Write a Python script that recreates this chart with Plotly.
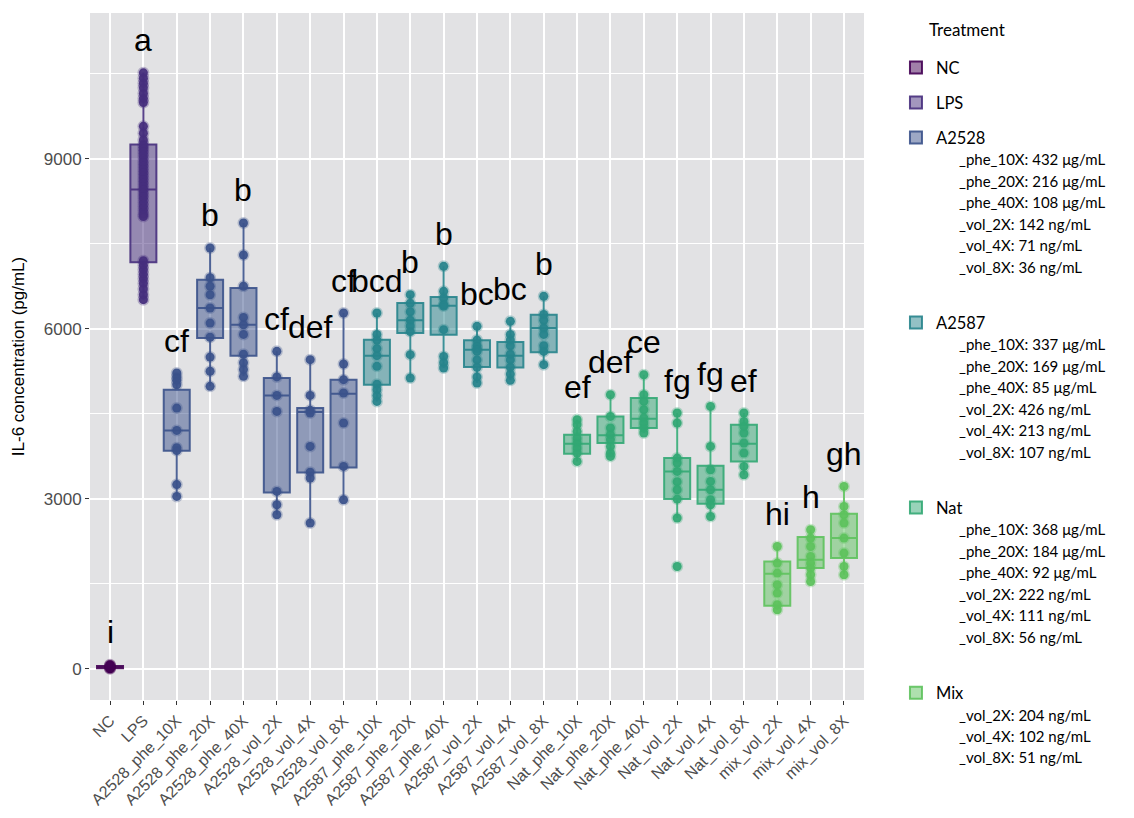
import plotly.graph_objects as go

categories = ["NC", "LPS",
              "A2528_phe_10X", "A2528_phe_20X", "A2528_phe_40X", "A2528_vol_2X", "A2528_vol_4X", "A2528_vol_8X",
              "A2587_phe_10X", "A2587_phe_20X", "A2587_phe_40X", "A2587_vol_2X", "A2587_vol_4X", "A2587_vol_8X",
              "Nat_phe_10X", "Nat_phe_20X", "Nat_phe_40X", "Nat_vol_2X", "Nat_vol_4X", "Nat_vol_8X",
              "mix_vol_2X", "mix_vol_4X", "mix_vol_8X"]
groups = ["NC", "LPS"] + ["A2528"] * 6 + ["A2587"] * 6 + ["Nat"] * 6 + ["Mix"] * 3

q1 = [10, 7171, 3848, 5837, 5525, 3112, 3465, 3553, 5013, 5925, 5895, 5325, 5318, 5583,
      3795, 3984, 4248, 2995, 2912, 3659, 1112, 1777, 1953]
median = [30, 8454, 4206, 6366, 6072, 4824, 4530, 4854, 5525, 6148, 6407, 5630, 5525, 6013,
          3971, 4120, 4412, 3483, 3159, 3971, 1677, 1924, 2306]
q3 = [50, 9249, 4924, 6866, 6719, 5130, 4601, 5101, 5807, 6455, 6560, 5795, 5766, 6248,
      4130, 4453, 4778, 3718, 3583, 4307, 1894, 2324, 2736]
lower = [0, 6513, 3042, 4983, 5160, 2718, 2572, 2983, 4718, 5131, 5307, 5042, 5089, 5366,
         3659, 3748, 4160, 2660, 2688, 3424, 1041, 1541, 1659]
upper = [70, 10514, 5219, 7425, 7866, 5601, 5454, 6278, 6278, 6601, 7101, 6042, 6130, 6571,
         4395, 4836, 5189, 4513, 4630, 4513, 2159, 2453, 3218]

points = [
    [0, 10, 20, 30, 40, 50, 60, 70],
    [10514, 10420, 10330, 10250, 10150, 10060, 9990, 9570, 9450, 9330, 9250, 9200, 9150, 9090,
     9030, 8960, 8900, 8840, 8780, 8720, 8660, 8600, 8540, 8480, 8420, 8360, 8300, 8230, 8160,
     8090, 8020, 7980, 7200, 7120, 7040, 6960, 6880, 6800, 6700, 6600, 6513],
    [5219, 5150, 5090, 5010, 4600, 4206, 3900, 3850, 3250, 3042],
    [7425, 6900, 6750, 6600, 6366, 6100, 5850, 5500, 5250, 4983],
    [7866, 7300, 6750, 6200, 6070, 5900, 5550, 5400, 5280, 5160],
    [5601, 5150, 4824, 4541, 3130, 2895, 2718],
    [5454, 4824, 4560, 4513, 3924, 3470, 3366, 2572],
    [6278, 5378, 5101, 4866, 4336, 3571, 2983],
    [6278, 5900, 5800, 5650, 5525, 5336, 5020, 4924, 4820, 4718],
    [6601, 6450, 6300, 6150, 6050, 5950, 5542, 5131],
    [7101, 6659, 6542, 6424, 6400, 5983, 5512, 5400, 5307],
    [6042, 5800, 5700, 5650, 5600, 5450, 5320, 5150, 5042],
    [6130, 5900, 5800, 5700, 5550, 5450, 5320, 5200, 5089],
    [6571, 6250, 6150, 6013, 5900, 5700, 5600, 5366],
    [4395, 4307, 4189, 4072, 3984, 3895, 3807, 3659],
    [4836, 4453, 4248, 4130, 4042, 3924, 3807, 3748],
    [5189, 4836, 4718, 4571, 4425, 4336, 4248, 4160],
    [4513, 4336, 3718, 3630, 3483, 3300, 3159, 2995, 2660, 1806],
    [4630, 3924, 3512, 3306, 3159, 2983, 2895, 2688],
    [4513, 4365, 4277, 4160, 3984, 3807, 3571, 3424],
    [2159, 1865, 1689, 1483, 1336, 1130, 1041],
    [2453, 2306, 2159, 1983, 1865, 1777, 1659, 1541],
    [3218, 2865, 2718, 2572, 2306, 2042, 1806, 1659],
]

letters = ["i", "a", "cf", "b", "b", "cf", "def", "cf", "bcd", "b", "b", "bc", "bc", "b",
           "ef", "def", "ce", "fg", "fg", "ef", "hi", "h", "gh"]

treatments = ["NC", "LPS", "A2528", "A2587", "Nat", "Mix"]
treatment_notes = [
    [],
    [],
    ["_phe_10X: 432 μg/mL", "_phe_20X: 216 μg/mL", "_phe_40X: 108 μg/mL",
     "_vol_2X: 142 ng/mL", "_vol_4X: 71 ng/mL", "_vol_8X: 36 ng/mL"],
    ["_phe_10X: 337 μg/mL", "_phe_20X: 169 μg/mL", "_phe_40X: 85 μg/mL",
     "_vol_2X: 426 ng/mL", "_vol_4X: 213 ng/mL", "_vol_8X: 107 ng/mL"],
    ["_phe_10X: 368 μg/mL", "_phe_20X: 184 μg/mL", "_phe_40X: 92 μg/mL",
     "_vol_2X: 222 ng/mL", "_vol_4X: 111 ng/mL", "_vol_8X: 56 ng/mL"],
    ["_vol_2X: 204 ng/mL", "_vol_4X: 102 ng/mL", "_vol_8X: 51 ng/mL"],
]

colors = {"NC": (68, 1, 84), "LPS": (71, 47, 125), "A2528": (59, 82, 139),
          "A2587": (39, 132, 140), "Nat": (51, 168, 116), "Mix": (94, 194, 93)}


def rgba(c, a):
    return "rgba(%d,%d,%d,%.2f)" % (c[0], c[1], c[2], a)


def legend_name(t, notes, last):
    s = t
    for n in notes:
        s += "<br><span style='font-size:15px'>" + "\u00a0" * 6 + n + "</span>"
    if notes and not last:
        s += "<br>\u00a0"
    return s


names = {t: legend_name(t, n, t == treatments[-1]) for t, n in zip(treatments, treatment_notes)}

fig = go.Figure()
seen = set()
for i, cat in enumerate(categories):
    g = groups[i]
    c = colors[g]
    show = g not in seen
    seen.add(g)
    fig.add_trace(go.Box(
        x=[cat], q1=[q1[i]], median=[median[i]], q3=[q3[i]],
        lowerfence=[lower[i]], upperfence=[upper[i]],
        name=names[g], legendgroup=g, showlegend=show,
        fillcolor=rgba(c, 0.5), line=dict(color=rgba(c, 0.9), width=2),
        whiskerwidth=0, width=0.78, boxpoints=False, hoverinfo="skip"))
    fig.add_trace(go.Scatter(
        x=[cat] * len(points[i]), y=points[i], mode="markers",
        marker=dict(size=9, color=rgba(c, 0.95), line=dict(color=rgba(c, 0.3), width=3)),
        legendgroup=g, showlegend=False, hoverinfo="skip"))

for i, cat in enumerate(categories):
    top = max(max(points[i]), upper[i])
    fig.add_annotation(x=cat, y=top + 220, text=letters[i], showarrow=False,
                       yanchor="bottom", xanchor="center",
                       font=dict(size=32, family="Liberation Sans", color="black"))

fig.update_layout(
    width=1134, height=818,
    margin=dict(l=82, r=278, t=5, b=126, autoexpand=False),
    paper_bgcolor="white", plot_bgcolor="#E2E2E4",
    boxmode="overlay",
    font=dict(family="Liberation Sans", color="#4D4D4D"),
    legend=dict(
        x=1.0413, xanchor="left", y=0.9874, yanchor="top", maxheight=815,
        traceorder="grouped", tracegroupgap=10.5, valign="top",
        font=dict(family="Lato", size=16.5, color="black"),
        title=dict(text="\u00a0" * 11 + "<span style='font-size:17px'>Treatment</span><br>\u00a0",
                   font=dict(family="Lato", size=11, color="black")),
        bgcolor="rgba(0,0,0,0)"),
)
fig.update_xaxes(
    type="category", categoryorder="array", categoryarray=categories,
    range=[-0.6, len(categories) - 0.4], automargin=False,
    tickangle=-45, tickfont=dict(size=16, color="#4D4D4D"),
    ticks="outside", ticklen=4, tickcolor="#333333", tickwidth=1,
    showgrid=True, gridcolor="white", gridwidth=1.5,
    zeroline=False, showline=False)
fig.update_yaxes(
    range=[-550, 11570], tickmode="linear", tick0=0, dtick=3000, tickformat="d",
    automargin=False,
    tickfont=dict(size=17, color="#4D4D4D"),
    ticks="outside", ticklen=4, tickcolor="#333333", tickwidth=1,
    showgrid=True, gridcolor="white", gridwidth=1.5,
    minor=dict(dtick=1500, tick0=0, showgrid=True, gridcolor="white", gridwidth=0.7),
    zeroline=False, showline=False,
    title=dict(text="IL-6 concentration (pg/mL)", font=dict(size=17, color="black"), standoff=14))

fig.write_html("out.html")
